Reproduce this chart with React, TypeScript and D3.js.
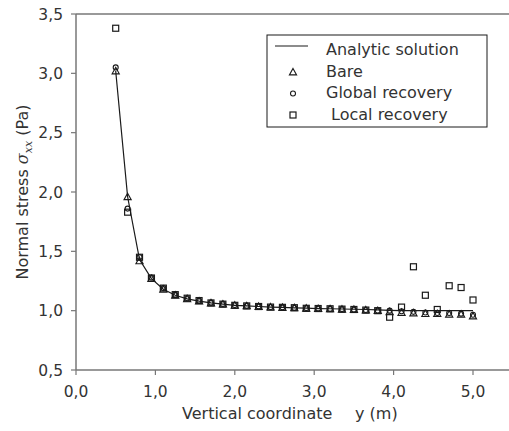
import React from "react";
import * as d3 from "d3";

const yPos = [0.5, 0.65, 0.8, 0.95, 1.1, 1.25, 1.4, 1.55, 1.7, 1.85, 2.0, 2.15, 2.3, 2.45, 2.6, 2.75, 2.9, 3.05, 3.2, 3.35, 3.5, 3.65, 3.8, 3.95, 4.1, 4.25, 4.4, 4.55, 4.7, 4.85, 5.0];
const analytic = [3.02, 1.96, 1.43, 1.27, 1.18, 1.13, 1.1, 1.08, 1.065, 1.055, 1.045, 1.04, 1.035, 1.03, 1.027, 1.024, 1.021, 1.018, 1.016, 1.014, 1.012, 1.01, 1.006, 1.003, 1.0, 1.0, 1.0, 1.0, 1.0, 1.0, 1.0];
const bare = [3.02, 1.96, 1.42, 1.27, 1.18, 1.13, 1.1, 1.08, 1.065, 1.055, 1.045, 1.04, 1.035, 1.03, 1.027, 1.024, 1.02, 1.017, 1.015, 1.012, 1.01, 1.005, 1.0, 0.99, 0.985, 0.98, 0.975, 0.975, 0.97, 0.97, 0.955];
const globalRec = [3.05, 1.86, 1.45, 1.28, 1.19, 1.135, 1.105, 1.085, 1.068, 1.057, 1.048, 1.042, 1.036, 1.031, 1.028, 1.025, 1.022, 1.019, 1.016, 1.013, 1.01, 1.006, 1.002, 1.0, 0.995, 0.99, 0.985, 0.98, 0.98, 0.975, 0.965];
const localRec = [3.38, 1.83, 1.45, 1.275, 1.19, 1.135, 1.105, 1.085, 1.065, 1.055, 1.045, 1.04, 1.035, 1.03, 1.028, 1.025, 1.02, 1.018, 1.016, 1.013, 1.01, 1.005, 1.0, 0.945, 1.03, 1.37, 1.13, 1.01, 1.21, 1.195, 1.09];
const xTicks = [0, 1, 2, 3, 4, 5];
const yTicks = [0.5, 1.0, 1.5, 2.0, 2.5, 3.0, 3.5];
const legendLabels = ["Analytic solution", "Bare", "Global recovery", " Local recovery"];

const W = 509;
const H = 431;
const FONT = "'DejaVu Sans', sans-serif";
const AXIS = "#777";
const INK = "#1a1a1a";

const fmt = (v: number) => d3.format(".1f")(v).replace(".", ",");

function Tri({ x, y }: { x: number; y: number }) {
  const s = 3.6;
  return <path d={`M${x},${y - s}L${x + s},${y + s * 0.8}L${x - s},${y + s * 0.8}Z`} fill="none" stroke={INK} strokeWidth={1.1} />;
}
function Circ({ x, y }: { x: number; y: number }) {
  return <circle cx={x} cy={y} r={2.5} fill="none" stroke={INK} strokeWidth={1.1} />;
}
function Sq({ x, y }: { x: number; y: number }) {
  const s = 3;
  return <rect x={x - s} y={y - s} width={2 * s} height={2 * s} fill="none" stroke={INK} strokeWidth={1.2} />;
}

export default function App() {
  const x = d3.scaleLinear().domain([0, 5]).range([76, 473]);
  const y = d3.scaleLinear().domain([0.5, 3.5]).range([370, 14]);
  const line = d3.line<number>().x((_, i) => x(yPos[i])).y((d) => y(d));

  const lx = 293;
  const ly = [55, 76.5, 98, 119.5];

  return (
    <svg width={W} height={H} style={{ position: "absolute", left: 0, top: 0, background: "#fff" }}>
      <rect x={0} y={0} width={W} height={H} fill="#fff" />
      {/* frame */}
      <line x1={x(0)} x2={W} y1={y(3.5)} y2={y(3.5)} stroke={AXIS} strokeWidth={1.5} />
      <line x1={x(0)} x2={W} y1={y(0.5)} y2={y(0.5)} stroke={AXIS} strokeWidth={1.5} />
      <line x1={x(0)} x2={x(0)} y1={y(3.5)} y2={y(0.5)} stroke={AXIS} strokeWidth={1.5} />
      {yTicks.map((t) => (
        <g key={"y" + t}>
          <line x1={x(0) - 5} x2={x(0)} y1={y(t)} y2={y(t)} stroke={AXIS} strokeWidth={1.2} />
          <text x={63} y={y(t)} dy="0.36em" textAnchor="end" fontFamily={FONT} fontSize={15.5} fill="#333">{fmt(t)}</text>
        </g>
      ))}
      {xTicks.map((t) => (
        <g key={"x" + t}>
          <line x1={x(t)} x2={x(t)} y1={y(0.5)} y2={y(0.5) + 5} stroke={AXIS} strokeWidth={1.2} />
          <text x={x(t)} y={397} textAnchor="middle" fontFamily={FONT} fontSize={15.5} fill="#333">{fmt(t)}</text>
        </g>
      ))}
      {/* axis titles */}
      <text x={182} y={418.5} fontFamily={FONT} fontSize={16} fill="#333">Vertical coordinate</text>
      <text x={355} y={418.5} fontFamily={FONT} fontSize={16} fill="#333">y (m)</text>
      <text transform={`translate(28,192) rotate(-90)`} textAnchor="middle" fontFamily={FONT} fontSize={16} fill="#333">
        <tspan>Normal stress  </tspan>
        <tspan fontFamily="'DejaVu Serif', serif" fontStyle="italic">σ</tspan>
        <tspan fontFamily="'DejaVu Serif', serif" fontStyle="italic" fontSize={11} dy={4}>xx</tspan>
        <tspan dy={-4}> (Pa)</tspan>
      </text>
      {/* analytic */}
      <path d={line(analytic) || ""} fill="none" stroke={INK} strokeWidth={1.2} />
      {bare.map((v, i) => <Tri key={"b" + i} x={x(yPos[i])} y={y(v)} />)}
      {globalRec.map((v, i) => <Circ key={"g" + i} x={x(yPos[i])} y={y(v)} />)}
      {localRec.map((v, i) => <Sq key={"l" + i} x={x(yPos[i])} y={y(v)} />)}
      {/* legend */}
      <rect x={267} y={35} width={220} height={92} fill="#fff" stroke={INK} strokeWidth={1} />
      <line x1={275} x2={308} y1={46} y2={46} stroke={INK} strokeWidth={1.2} />
      <Tri x={lx} y={ly[1] - 4.5} />
      <Circ x={lx} y={ly[2] - 4.5} />
      <Sq x={lx} y={ly[3] - 4.5} />
      {legendLabels.map((l, i) => (
        <text key={l} x={326} y={ly[i]} fontFamily={FONT} fontSize={16} fill="#333" style={{ whiteSpace: "pre" }}>{l}</text>
      ))}
    </svg>
  );
}
